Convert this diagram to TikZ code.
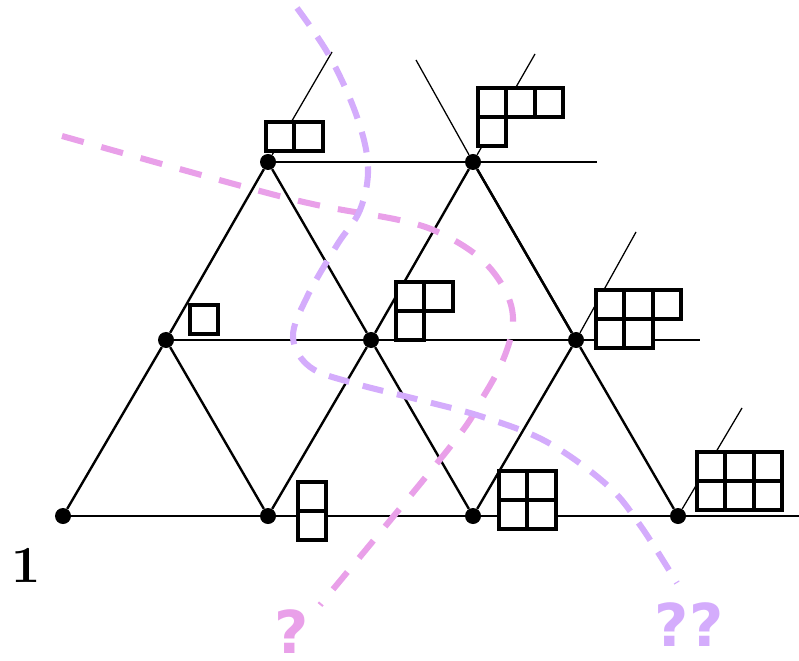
\documentclass[tikz,border=0pt]{standalone}
\usepackage{fontspec}
\usepackage{tikz}
\newfontfamily\qfont{DejaVu Sans}
\definecolor{pinkq}{RGB}{233,160,233}
\definecolor{lilac}{RGB}{212,172,252}

\begin{document}
\begin{tikzpicture}[
  x=0.025cm, y=-0.025cm,
  dot/.style={circle, fill=black, inner sep=0pt, minimum size=0.4cm},
  edge/.style={line width=1.7pt},
  leg/.style={line width=0.9pt},
  cell/.style={draw=black, fill=white, line width=2.9pt},
  curve/.style={line width=4.3pt, draw=#1, dash pattern=on 15pt off 10pt},
  qmark/.style={font=\qfont\bfseries\fontsize{42}{45}\selectfont, text=#1,
    anchor=base, inner sep=0pt}]

\useasboundingbox (0,0) rectangle (799,661);

% the lattice
\node[dot] (a1) at (63,516)  {};
\node[dot] (a2) at (268,516) {};
\node[dot] (a3) at (473,516) {};
\node[dot] (a4) at (678,516) {};
\node[dot] (b1) at (166,340) {};
\node[dot] (b2) at (371,340) {};
\node[dot] (b3) at (576,340) {};
\node[dot] (c1) at (268,162) {};
\node[dot] (c2) at (473,162) {};

\draw[edge] (a1) -- (a2) -- (a3) -- (a4);
\draw[edge] (b1) -- (b2) -- (b3);
\draw[edge] (c1) -- (c2);
\draw[edge] (a1) -- (b1) -- (c1) -- (b2) -- (a3) -- (b3) -- (c2) -- (b2) -- (a2) -- (b1);
\draw[edge] (c2) -- (b3) -- (a4);

% open ends
\coordinate (t1) at (332,52);
\coordinate (t2) at (416,60);
\coordinate (t3) at (535,54);
\coordinate (t4) at (597,162);
\coordinate (t5) at (636,232);
\coordinate (t6) at (700,340);
\coordinate (t7) at (742,408);
\coordinate (t8) at (799,516);
\draw[leg] (c1) -- (t1);
\draw[leg] (c2) -- (t2);
\draw[leg] (c2) -- (t3);
\draw[leg] (c2) -- (t4);
\draw[leg] (b3) -- (t5);
\draw[leg] (b3) -- (t6);
\draw[leg] (a4) -- (t7);
\draw[leg] (a4) -- (t8);

% young diagrams
\foreach \ox/\oy/\cells in {266/122/{0/0,1/0}, 478/88/{0/0,1/0,2/0,0/1},
    190/305/{0/0}, 396/282/{0/0,1/0,0/1}, 596/290/{0/0,1/0,2/0,0/1,1/1},
    298/482/{0/0,0/1}, 499/471/{0/0,1/0,0/1,1/1},
    697/452/{0/0,1/0,2/0,0/1,1/1,2/1}}{
  \foreach \i/\j in \cells
    \draw[cell] (\ox+\i*28.3,\oy+\j*28.8) rectangle ++(28.3,28.8);
}

% the two walls
\draw[curve=pinkq, dash pattern=on 16pt off 13pt] plot[smooth, tension=0.6] coordinates {
  (62,136) (234,184) (317,205) (399,220) (440,233) (480,258) (505,290)
  (513,322) (503,360) (480,402) (450,447) (320,605)};
\draw[curve=lilac] plot[smooth, tension=0.6] coordinates {
  (297,8) (330,57) (357,117) (368,167) (360,210) (337,245) (307,297)
  (293,337) (310,367) (353,383) (420,400) (483,417) (547,442) (607,485)
  (640,525) (677,583)};

% labels
\node[font=\bfseries\fontsize{37}{40}\selectfont, anchor=base, inner sep=0pt] (one) at (26,582) {1};
\node[qmark=pinkq] (q1) at (292,653) {?};
\node[qmark=lilac] (q2) at (689,646) {??};

\end{tikzpicture}
\end{document}
